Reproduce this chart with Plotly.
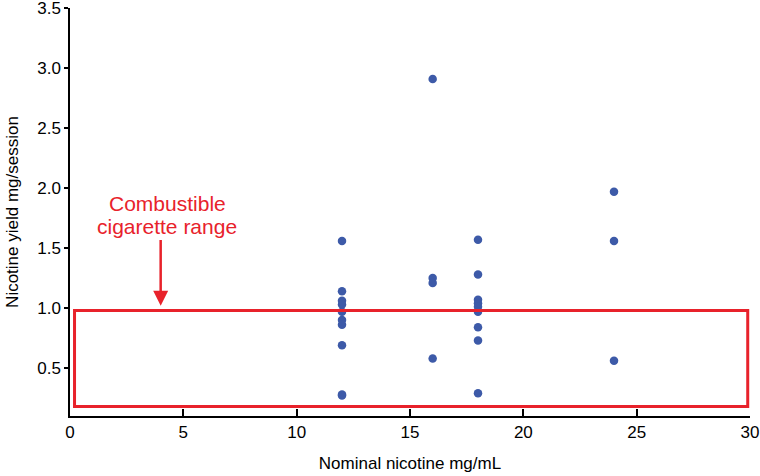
import plotly.graph_objects as go

# Data
nominal_12 = [12] * 10
yield_12 = [1.56, 1.14, 1.06, 1.03, 0.97, 0.90, 0.86, 0.69, 0.28, 0.27]
nominal_16 = [16] * 4
yield_16 = [2.91, 1.25, 1.21, 0.58]
nominal_18 = [18] * 9
yield_18 = [1.57, 1.28, 1.07, 1.04, 1.01, 0.97, 0.84, 0.73, 0.29]
nominal_24 = [24] * 3
yield_24 = [1.97, 1.56, 0.56]

x_vals = nominal_12 + nominal_16 + nominal_18 + nominal_24
y_vals = yield_12 + yield_16 + yield_18 + yield_24

range_low, range_high = 0.18, 0.98
range_x0, range_x1 = 0.2, 29.9

x_ticks = [0, 5, 10, 15, 20, 25, 30]
y_ticks = [0.5, 1.0, 1.5, 2.0, 2.5, 3.0, 3.5]

label_lines = ["Combustible", "cigarette range"]

RED = "#E8222B"
BLUE = "#3D5AA8"
FONT = "Liberation Sans, Arial"

fig = go.Figure()
fig.add_trace(go.Scatter(
    x=x_vals, y=y_vals, mode="markers",
    marker=dict(color=BLUE, size=8.5, line=dict(width=0)),
    showlegend=False, hoverinfo="x+y",
))

fig.add_shape(type="rect", xref="x", yref="y",
              x0=range_x0, x1=range_x1, y0=range_low, y1=range_high,
              line=dict(color=RED, width=3), fillcolor="rgba(0,0,0,0)")

fig.add_annotation(x=4, y=1.02, ax=4, ay=1.58, xref="x", yref="y",
                   axref="x", ayref="y", text="", showarrow=True,
                   arrowhead=2, arrowsize=1.2, arrowwidth=2.5, arrowcolor=RED)
for txt, yv in zip(label_lines, [1.87, 1.68]):
    fig.add_annotation(x=4.28, y=yv, xref="x", yref="y",
                       text=txt, showarrow=False,
                       font=dict(family=FONT, size=21, color=RED),
                       align="center")

fig.update_layout(
    width=760, height=476,
    margin=dict(l=70, r=10, t=8, b=60),
    plot_bgcolor="white", paper_bgcolor="white",
    font=dict(family=FONT, size=17, color="black"),
)
fig.update_xaxes(
    range=[0, 30], tickvals=x_ticks, ticks="inside", ticklen=7, tickwidth=1.5,
    tickcolor="black", showline=True, linecolor="black", linewidth=1.5,
    showgrid=False, zeroline=False, automargin=False,
    ticklabeloverflow="allow",
    title=dict(text="Nominal nicotine mg/mL", font=dict(size=17), standoff=16),
    tickfont=dict(size=17),
)
fig.update_yaxes(
    range=[0.1, 3.502], tickvals=y_ticks, tickformat=".1f", ticks="outside",
    ticklen=4, tickwidth=1.5, tickcolor="black", showline=True,
    linecolor="black", linewidth=1.5, showgrid=False, zeroline=False,
    automargin=False, ticklabeloverflow="allow",
    title=dict(text="Nicotine yield mg/session", font=dict(size=17), standoff=14),
    tickfont=dict(size=17),
)

fig.write_html("out.html", config={"displayModeBar": False},
               post_script="document.body.style.margin='0';document.body.style.overflow='hidden';")
